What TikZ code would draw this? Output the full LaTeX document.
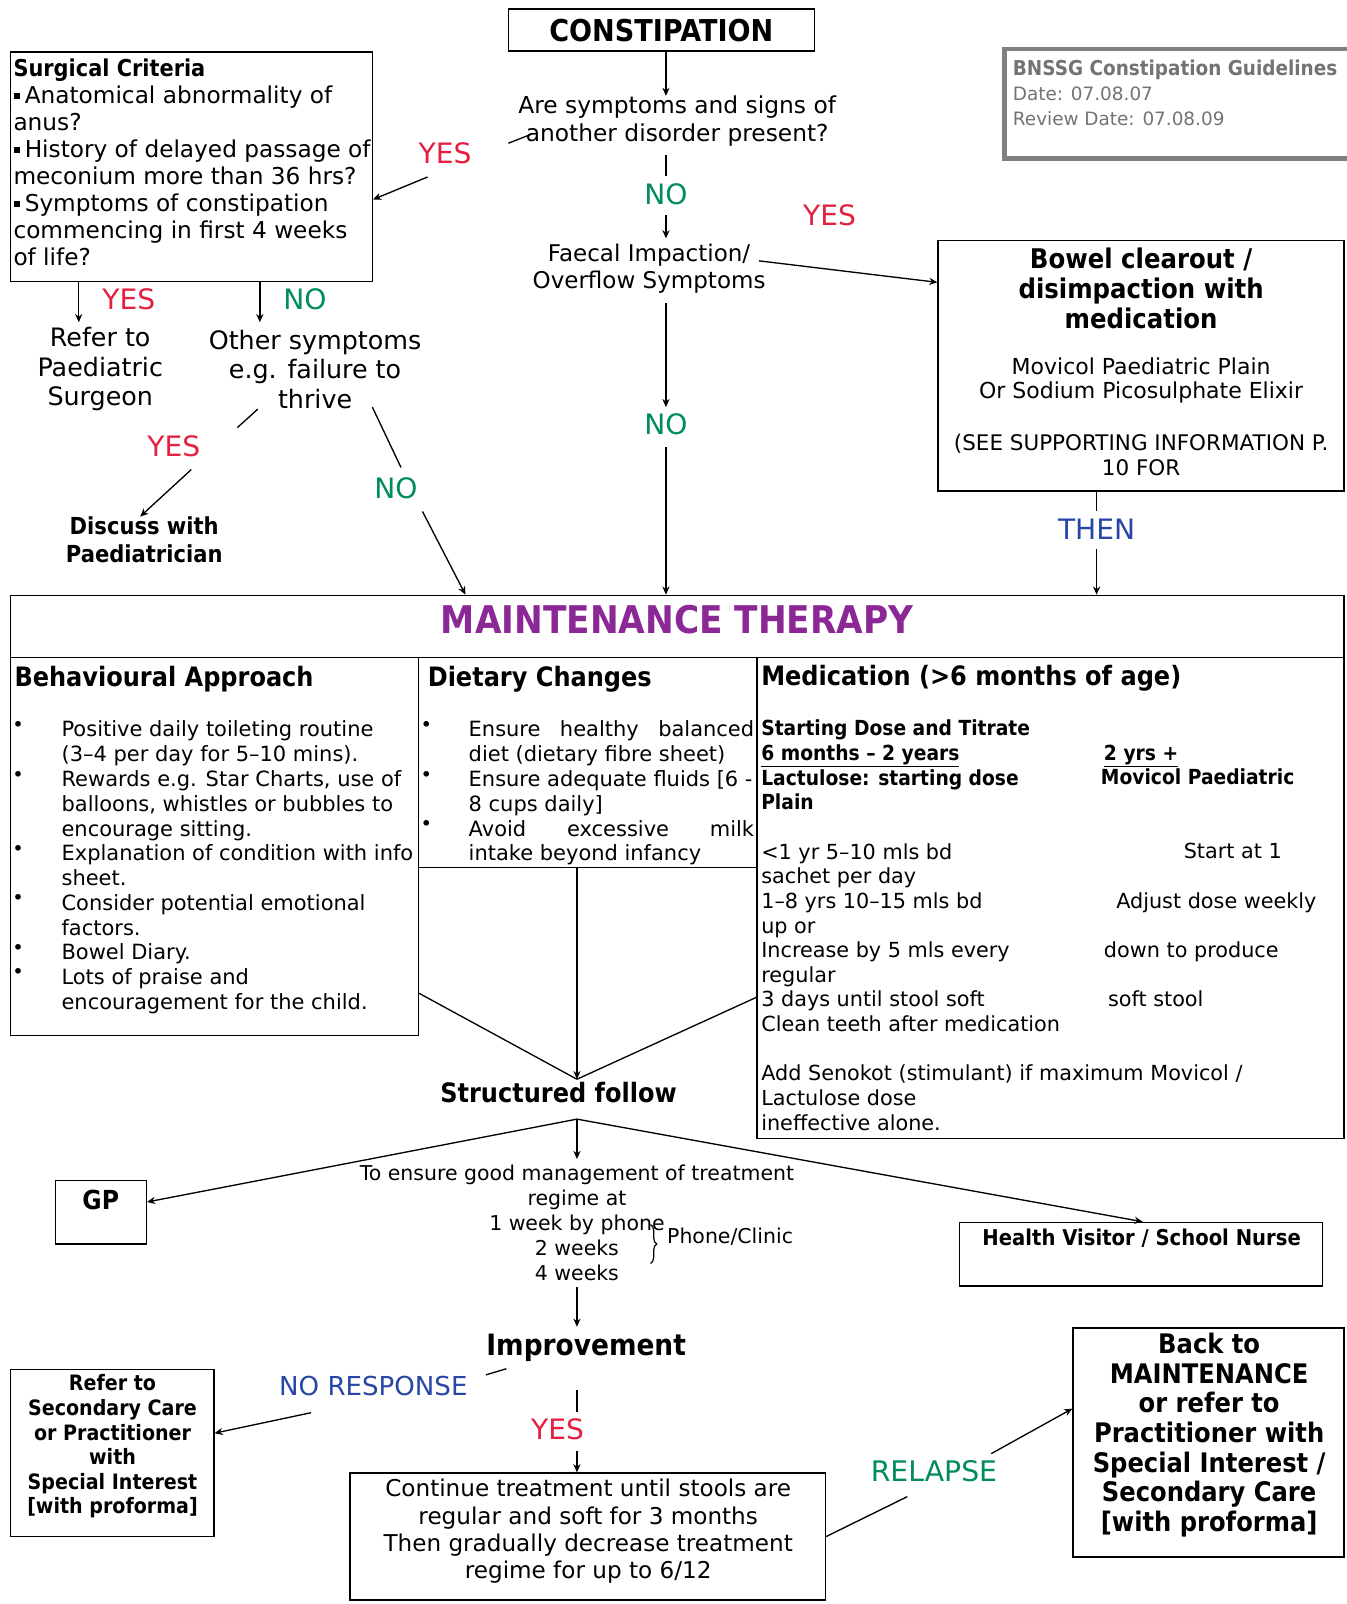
\documentclass[tikz,border=0pt]{standalone}
\usepackage{fontspec}
\setmainfont{DejaVu Sans}[BoldFeatures={FakeStretch=0.9}]
\usetikzlibrary{arrows.meta,decorations.pathreplacing}
\newcommand\fsz[2]{\fontsize{#1}{#2}\selectfont}
\newcommand\sqb{\makebox[11pt][l]{\rule[5pt]{6pt}{6pt}}}
\definecolor{cred}{RGB}{228,32,64}
\definecolor{cgreen}{RGB}{0,140,95}
\definecolor{cblue}{RGB}{40,70,165}
\definecolor{cpurple}{RGB}{140,40,150}
\definecolor{cgrayline}{RGB}{128,128,128}
\definecolor{cgraytext}{RGB}{115,115,115}
\begin{document}
\begin{tikzpicture}[x=1pt,y=-1pt,
  bx/.style={draw,line width=1.4pt,inner sep=0pt},
  txt/.style={inner sep=0pt,align=center},
  ltxt/.style={inner sep=0pt,align=left},
  lab/.style={inner sep=0pt,font=\fsz{27.5}{30}},
  ln/.style={line width=1.3pt},
  arr/.style={line width=1.3pt,-{Stealth[length=8pt,width=7pt]}},
  bul/.style={inner sep=0pt,anchor=base west,font=\fsz{19}{20}},
  rcol/.style={inner sep=0pt,anchor=base west,font=\fsz{20.3}{24.1}}]
\fill[white] (0,0) rectangle (1316,1568);
\useasboundingbox (0,0) rectangle (1316,1568);

% ---------- top part ----------
\node[bx,minimum width=299pt,minimum height=41pt,font=\bfseries\fsz{29.4}{32}] (cons) at (646.5,29.5) {CONSTIPATION};
\node[txt,font=\fsz{22.8}{27}] (q) at (662,118.5) {Are symptoms and signs of\\another disorder present?};

\node[draw=cgrayline,line width=4.5pt,inner sep=0pt,minimum width=343pt,minimum height=107pt] (bnssg) at (1153.5,101.5) {};
\node[ltxt,anchor=north west,text=cgraytext,font=\fsz{18}{24.5}] (bnssgt) at (990,56.2) {\strut{\bfseries\fsz{20}{24.5}BNSSG Constipation Guidelines}\\Date: 07.08.07\\Review Date: 07.08.09};

\node[bx,minimum width=354pt,minimum height=224pt] (surg) at (187,163) {};
\node[ltxt,anchor=north west,font=\fsz{22.7}{26.4}] (surgt) at (13,56.4) {\strut\textbf{Surgical Criteria}\\\sqb Anatomical abnormality of\\anus?\\\sqb History of delayed passage of\\meconium more than 36 hrs?\\\sqb Symptoms of constipation\\commencing in first 4 weeks\\of life?};

\node[lab,text=cred] (yes1) at (435,150) {YES};
\node[lab,text=cred] (yes2) at (126,293) {YES};
\node[lab,text=cgreen] (no1) at (298,293) {NO};
\node[txt,font=\fsz{24.8}{29}] (refer1) at (98,361) {Refer to\\Paediatric\\Surgeon};
\node[txt,font=\fsz{24.8}{29}] (other) at (308,361) {Other symptoms\\e.g. failure to\\thrive};
\node[lab,text=cred] (yes3) at (170,436) {YES};
\node[txt,font=\bfseries\fsz{22.9}{27}] (discuss) at (141,527.5) {Discuss with\\Paediatrician};
\node[lab,text=cgreen] (no2) at (387,477) {NO};

\node[lab,text=cgreen] (no3) at (651,190) {NO};
\node[lab,text=cred] (yes4) at (811,210) {YES};
\node[txt,font=\fsz{22.5}{27}] (faecal) at (634.5,262.5) {Faecal Impaction/\\Overflow Symptoms};
\node[lab,text=cgreen] (no4) at (651,415) {NO};

\node[bx,minimum width=397pt,minimum height=245pt] (bowel) at (1115.5,357.5) {};
\node[txt,font=\bfseries\fsz{26.5}{29}] (bowelt) at (1115.5,282) {Bowel clearout /\\disimpaction with\\medication};
\node[txt,font=\fsz{21.5}{24}] (bowelm) at (1115.5,372) {Movicol Paediatric Plain\\Or Sodium Picosulphate Elixir};
\node[txt,font=\fsz{21}{24}] (bowels) at (1115.5,445) {(SEE SUPPORTING INFORMATION P.\\10 FOR};
\node[lab,text=cblue] (then) at (1072,517) {THEN};

% ---------- maintenance ----------
\node[bx,minimum width=1304pt,minimum height=61pt] (maint) at (662,612.5) {};
\node[inner sep=0pt,text=cpurple,font=\bfseries\fsz{37.3}{40}] (maintt) at (662,606) {MAINTENANCE THERAPY};

\node[bx,minimum width=399pt,minimum height=369pt] (behav) at (209.5,827.5) {};
\node[inner sep=0pt,anchor=base west,font=\bfseries\fsz{26.1}{30}] (behavt) at (14,671) {Behavioural Approach};
\node[ltxt,anchor=north west,font=\fsz{20.5}{24.2}] (behavl) at (60,703.3) {\strut Positive daily toileting routine\\(3–4 per day for 5–10 mins).\\Rewards e.g. Star Charts, use of\\balloons, whistles or bubbles to\\encourage sitting.\\Explanation of condition with info\\sheet.\\Consider potential emotional\\factors.\\Bowel Diary.\\Lots of praise and\\encouragement for the child.};
\node[bul] (bb1) at (12,715) {•};
\node[bul] (bb2) at (12,764) {•};
\node[bul] (bb3) at (12,836) {•};
\node[bul] (bb4) at (12,884) {•};
\node[bul] (bb5) at (12,933) {•};
\node[bul] (bb6) at (12,957) {•};

\node[bx,minimum width=331pt,minimum height=205pt] (diet) at (574.5,745.5) {};
\node[inner sep=0pt,anchor=base west,font=\bfseries\fsz{26.1}{30}] (dietT) at (418,671) {Dietary Changes};
\node[ltxt,anchor=north west,font=\fsz{20.5}{24.2}] (dietl) at (458,703.3) {\strut\makebox[279pt][s]{Ensure healthy balanced}\\diet (dietary fibre sheet)\\Ensure adequate fluids [6 -\\8 cups daily]\\\makebox[279pt][s]{Avoid excessive milk}\\intake beyond infancy};
\node[bul] (db1) at (411,715) {•};
\node[bul] (db2) at (411,764) {•};
\node[bul] (db3) at (411,812) {•};

\node[bx,minimum width=574pt,minimum height=470pt] (med) at (1027,878) {};
\node[inner sep=0pt,anchor=base west,font=\bfseries\fsz{26.1}{30}] (medt) at (744,670.3) {Medication (>6 months of age)};
\node[ltxt,anchor=north west,font=\fsz{20.3}{24.1}] (medl) at (744,702.2) {\strut\textbf{Starting Dose and Titrate}\\\underline{\textbf{6 months – 2 years}}\\\textbf{Lactulose: starting dose}\\\textbf{Plain}\\\mbox{}\\<1 yr 5–10 mls bd\\sachet per day\\1–8 yrs 10–15 mls bd\\up or\\Increase by 5 mls every\\regular\\3 days until stool soft\\Clean teeth after medication\\\mbox{}\\Add Senokot (stimulant) if maximum Movicol /\\Lactulose dose\\ineffective alone.};
\node[rcol] (r1) at (1079,743.2) {\underline{\textbf{2 yrs +}}};
\node[rcol] (r2) at (1076,767.3) {\textbf{Movicol Paediatric}};
\node[rcol] (r3) at (1157,839.6) {Start at 1};
\node[rcol] (r4) at (1091,887.8) {Adjust dose weekly};
\node[rcol] (r5) at (1079,936) {down to produce};
\node[rcol] (r6) at (1083,984.2) {soft stool};

% ---------- follow-up ----------
\coordinate (sf) at (564,1055);
\node[inner sep=0pt,font=\bfseries\fsz{26.1}{30}] (struct) at (546,1068) {Structured follow};
\coordinate (sfo) at (564,1094);
\node[txt,font=\fsz{20}{24.25}] (stext) at (564,1195.5) {To ensure good management of treatment\\regime at\\1 week by phone\\2 weeks\\4 weeks};
\node[inner sep=0pt,anchor=base west,font=\fsz{20}{24}] (phone) at (652,1216) {Phone/Clinic};
\coordinate (brt) at (636,1197);
\coordinate (brb) at (636,1235);

\node[bx,minimum width=89pt,minimum height=62pt] (gp) at (98.5,1185) {};
\node[inner sep=0pt,font=\bfseries\fsz{25.6}{28}] (gpt) at (98.5,1173) {GP};
\node[bx,minimum width=355pt,minimum height=62pt] (hv) at (1115.5,1226) {};
\node[inner sep=0pt,font=\bfseries\fsz{21.3}{24}] (hvt) at (1116,1210) {Health Visitor / School Nurse};

\node[inner sep=0pt,anchor=base,font=\bfseries\fsz{28.7}{32}] (impr) at (573,1325) {Improvement};
\node[inner sep=0pt,text=cblue,font=\fsz{25.5}{28}] (noresp) at (365,1355) {NO RESPONSE};
\node[lab,text=cred] (yes5) at (545,1397) {YES};
\node[inner sep=0pt,text=cgreen,font=\fsz{27.7}{30}] (relapse) at (913,1438) {RELAPSE};

\node[bx,minimum width=199pt,minimum height=163pt] (refer2) at (109.5,1420.5) {};
\node[txt,font=\bfseries\fsz{20.7}{24}] (refer2t) at (110,1414) {Refer to\\Secondary Care\\or Practitioner\\with\\Special Interest\\{[}with proforma{]}};
\node[bx,minimum width=465pt,minimum height=124pt] (cont) at (574.5,1502) {};
\node[txt,font=\fsz{22.6}{26.7}] (contt) at (575,1497) {Continue treatment until stools are\\regular and soft for 3 months\\Then gradually decrease treatment\\regime for up to 6/12};
\node[bx,minimum width=265pt,minimum height=224pt] (back) at (1181.5,1410) {};
\node[txt,font=\bfseries\fsz{26.3}{29}] (backt) at (1182,1403) {Back to\\MAINTENANCE\\or refer to\\Practitioner with\\Special Interest /\\Secondary Care\\{[}with proforma{]}};

% ---------- connectors ----------
\draw[arr] (cons.south -| 651,0) -- (q.north -| 651,0);
\draw[ln] (520,131) -- (497,140);
\draw[arr] (418,173) -- (surg.east |- 0,195);
\draw[arr] (surg.south -| 77,0) -- (77,315);
\draw[arr] (surg.south -| 254,0) -- (254,315);
\draw[ln] (252,400) -- (232,418);
\draw[arr] (187,459) -- (137,505);
\draw[ln] (364,398) -- (392,457);
\draw[arr] (413,500) -- (maint.north -| 455,0);
\draw[ln] (651,152) -- (651,172);
\draw[arr] (651,210) -- (651,233);
\draw[arr] (742,255) -- (bowel.west |- 0,276);
\draw[arr] (651,296) -- (651,398);
\draw[arr] (651,437) -- (maint.north -| 651,0);
\draw[ln] (bowel.south -| 1072,0) -- (1072,500);
\draw[arr] (1072,537) -- (maint.north -| 1072,0);

\draw[ln] (behav.east |- 0,971) -- (sf);
\draw[ln] (med.west |- 0,975) -- (sf);
\draw[arr] (diet.south -| sf) -- (sf);
\draw[arr] (sfo) -- (gp.east |- 0,1175);
\draw[arr] (sfo) -- (hv.north -| 1117,0);
\draw[arr] (sfo) -- (564,1133);
\draw[line width=1.2pt,decorate,decoration={brace,amplitude=6pt}] (brt) -- (brb);
\draw[arr] (564,1258) -- (564,1297);
\draw[ln] (495,1338) -- (475,1344);
\draw[arr] (304,1381) -- (refer2.east |- 0,1401);
\draw[ln] (564,1359) -- (564,1380);
\draw[arr] (564,1418) -- (cont.north -| 564,0);
\draw[ln] (cont.east |- 0,1502) -- (887,1463);
\draw[arr] (969,1421) -- (back.west |- 0,1377);
\end{tikzpicture}
\end{document}
